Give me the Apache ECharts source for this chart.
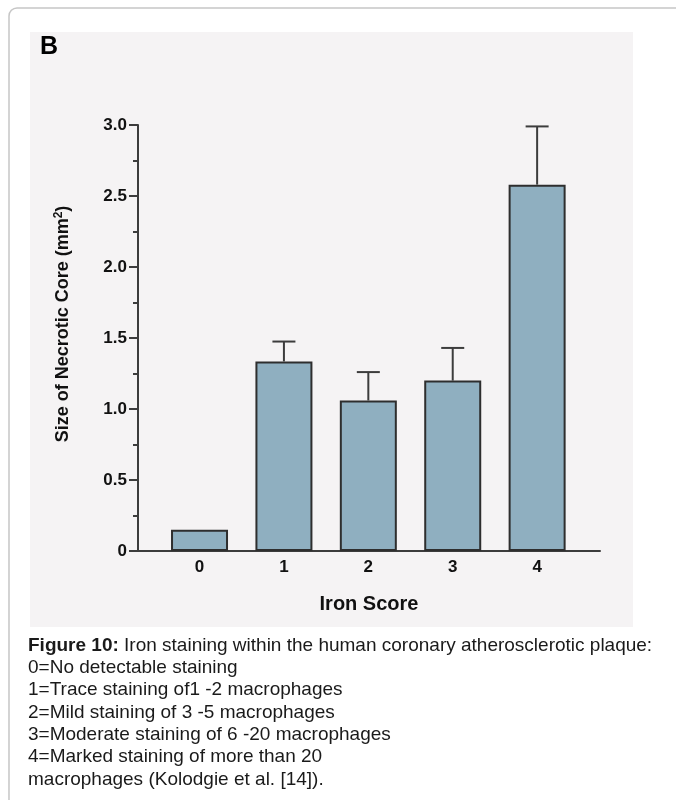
<!DOCTYPE html>
<html>
<head>
<meta charset="utf-8">
<script src="https://cdn.jsdelivr.net/npm/echarts@6/dist/echarts.min.js"></script>
<style>
html,body{margin:0;padding:0;background:#fff;}
#chart{width:676px;height:800px;}
</style>
</head>
<body>
<div id="chart"></div>
<script>
// Data
var categories = ['0', '1', '2', '3', '4'];
var meanValues = [0.15, 1.335, 1.06, 1.2, 2.58];
var errorTops = [null, 1.475, 1.26, 1.43, 2.99];
var yTickValues = [0, 0.5, 1.0, 1.5, 2.0, 2.5, 3.0];
var captionTitle = 'Figure 10:';
var captionLines = [
  ' Iron staining within the human coronary atherosclerotic plaque:',
  '0=No detectable staining',
  '1=Trace staining of1 -2 macrophages',
  '2=Mild staining of 3 -5 macrophages',
  '3=Moderate staining of 6 -20 macrophages',
  '4=Marked staining of more than 20',
  'macrophages (Kolodgie et al. [14]).'
];

var FONT = 'Liberation Sans, Arial, Helvetica, sans-serif';
var AXIS_COLOR = '#3c3c3c';

var chart = echarts.init(document.getElementById('chart'), null, {renderer: 'canvas'});

var barData = categories.map(function (c, i) { return [i, meanValues[i]]; });
var errData = [];
categories.forEach(function (c, i) {
  if (errorTops[i] != null) errData.push([i, meanValues[i], errorTops[i]]);
});

var captionGraphics = captionLines.map(function (line, i) {
  return {
    type: 'text',
    left: 28,
    top: 636 + i * 22.3,
    z: 10,
    style: {
      text: i === 0 ? '{b|' + captionTitle + '}' + line : line,
      font: '19px ' + FONT,
      fill: '#1a1a1a',
      rich: { b: { fontWeight: 'bold', fontSize: 19, fontFamily: FONT, fill: '#1a1a1a' } }
    }
  };
});

var option = {
  backgroundColor: '#ffffff',
  animation: false,
  graphic: [
    {
      type: 'rect', z: -20, silent: true,
      shape: {x: 9, y: 8, width: 700, height: 820, r: 8},
      style: {fill: '#ffffff', stroke: '#c6c6c6', lineWidth: 1.5}
    },
    {
      type: 'rect', z: -10, silent: true,
      shape: {x: 30, y: 32, width: 603, height: 595},
      style: {fill: '#f5f3f4'}
    },
    {
      type: 'text', left: 40, top: 35, z: 10,
      style: {text: 'B', font: 'bold 25px ' + FONT, fill: '#000'}
    },
    {
      type: 'text', x: 63, y: 324, rotation: Math.PI / 2, z: 10,
      style: {
        text: 'Size of Necrotic Core (mm{s|2})',
        font: 'bold 18px ' + FONT,
        fill: '#111',
        align: 'center',
        verticalAlign: 'middle',
        rich: { s: { fontSize: 12, fontWeight: 'bold', fontFamily: FONT, verticalAlign: 'top', padding: [0, 0, 8, 0], fill: '#111' } }
      }
    }
  ].concat(captionGraphics),
  grid: {left: 138, right: 76, top: 125, bottom: 249, containLabel: false},
  xAxis: {
    type: 'value',
    min: -0.729,
    max: 4.745,
    name: 'Iron Score',
    nameLocation: 'middle',
    nameGap: 43,
    nameTextStyle: {fontFamily: FONT, fontWeight: 'bold', fontSize: 20, color: '#111'},
    axisLine: {show: true, onZero: false, lineStyle: {color: AXIS_COLOR, width: 2}},
    axisTick: {show: false},
    splitLine: {show: false},
    axisLabel: {
      customValues: [0, 1, 2, 3, 4],
      formatter: function (v) { return categories[Math.round(v)]; },
      fontFamily: FONT, fontWeight: 'bold', fontSize: 17, color: '#111', margin: 8
    }
  },
  yAxis: {
    type: 'value',
    min: 0,
    max: 3,
    interval: 0.5,
    axisLine: {show: true, onZero: false, lineStyle: {color: AXIS_COLOR, width: 2}},
    axisTick: {show: true, length: 9, lineStyle: {color: AXIS_COLOR, width: 2}},
    minorTick: {show: true, splitNumber: 2, length: 5, lineStyle: {color: AXIS_COLOR, width: 2}},
    splitLine: {show: false},
    axisLabel: {
      customValues: yTickValues,
      formatter: function (v) { return v === 0 ? '0' : v.toFixed(1); },
      fontFamily: FONT, fontWeight: 'bold', fontSize: 17, color: '#111', margin: 11
    }
  },
  series: [
    {
      type: 'bar',
      data: barData,
      barWidth: 57,
      itemStyle: {color: '#8fafc0', borderColor: '#2e2e2e', borderWidth: 2},
      z: 3
    },
    {
      type: 'custom',
      data: errData,
      z: 2,
      renderItem: function (params, api) {
        var x = api.value(0);
        var base = api.coord([x, api.value(1)]);
        var top = api.coord([x, api.value(2)]);
        var half = 11.5;
        var st = {stroke: '#3c3c3c', lineWidth: 2};
        return {
          type: 'group',
          children: [
            {type: 'line', shape: {x1: base[0], y1: base[1], x2: top[0], y2: top[1]}, style: st},
            {type: 'line', shape: {x1: top[0] - half, y1: top[1], x2: top[0] + half, y2: top[1]}, style: st}
          ]
        };
      }
    }
  ]
};

chart.setOption(option);
</script>
</body>
</html>
